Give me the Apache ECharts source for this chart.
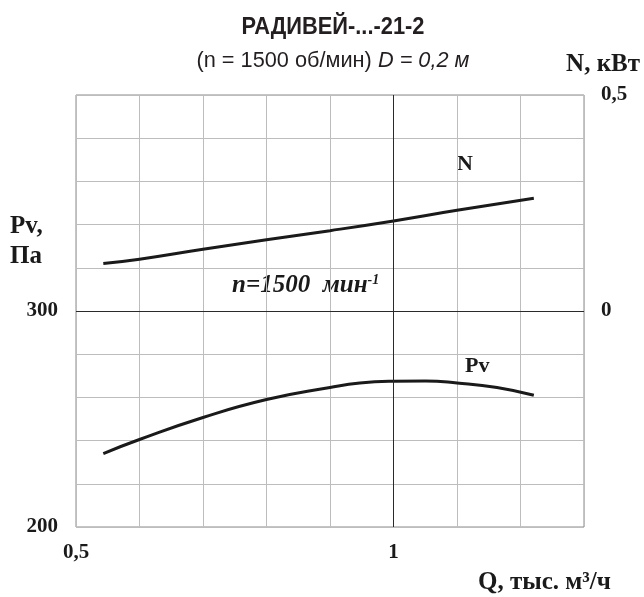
<!DOCTYPE html>
<html><head><meta charset="utf-8">
<script src="https://cdn.jsdelivr.net/npm/echarts@6/dist/echarts.min.js"></script>
<style>html,body{margin:0;padding:0;background:#fff}#c{width:644px;height:597px}</style>
</head><body><div id="c"></div>
<script>
// Data
const qPv = [0.543, 0.6, 0.7, 0.8, 0.9, 0.947, 1.0, 1.05, 1.1, 1.163, 1.221];
const pvValues = [234, 240.5, 250.7, 259, 264.6, 266.7, 267.5, 267.6, 266.7, 264.6, 261];
const qN = [0.543, 0.6, 0.7, 0.8, 0.9, 1.0, 1.1, 1.221];
const nValues = [0.110, 0.120, 0.143, 0.165, 0.186, 0.2085, 0.233, 0.261];
const xTickLabels = {0.5: '0,5', 1: '1'};
const pvTickLabels = {200: '200', 300: '300'};
const nTickLabels = {0: '0', 0.5: '0,5'};

const serif = '"Liberation Serif", "DejaVu Serif", serif';
const sans = '"Liberation Sans", "DejaVu Sans", sans-serif';
function pick(map, v) {
  for (const k in map) if (Math.abs(parseFloat(k) - v) < 1e-6) return map[k];
  return '';
}
// horizontal squeeze so the sans text mimics the reference's condensed face
const ctx = document.createElement('canvas').getContext('2d');
function squeeze(text, font, width) { ctx.font = font; return width / ctx.measureText(text).width; }

const titleText = 'РАДИВЕЙ-...-21-2';
const titleFont = 'bold 24px ' + sans;
const subA = '(n = 1500 об/мин) ', subB = 'D = 0,2 м';
const subFontA = '22px ' + sans, subFontB = 'italic 22px ' + sans;
ctx.font = subFontA; let subW = ctx.measureText(subA).width;
ctx.font = subFontB; subW += ctx.measureText(subB).width;

const chart = echarts.init(document.getElementById('c'));
const lbl = {color: '#1a1a1a', fontFamily: serif, fontWeight: 'bold', fontSize: 21};
chart.setOption({
  animation: false,
  backgroundColor: '#fff',
  grid: {left: 76, right: 60, top: 95, bottom: 70, show: true, borderColor: '#8a8a8a', borderWidth: 1},
  xAxis: {
    type: 'value', min: 0.5, max: 1.3, interval: 0.1,
    axisLine: {show: false}, axisTick: {show: false},
    axisLabel: Object.assign({margin: 15, formatter: v => pick(xTickLabels, v), showMaxLabel: true}, lbl),
    splitLine: {show: true, lineStyle: {color: '#bdbdbd', width: 1}}
  },
  yAxis: [{
    type: 'value', min: 200, max: 400, interval: 20,
    axisLine: {show: false}, axisTick: {show: false},
    axisLabel: Object.assign({margin: 18, formatter: v => pick(pvTickLabels, v)}, lbl),
    splitLine: {show: true, lineStyle: {color: '#bdbdbd', width: 1}}
  }, {
    type: 'value', min: -0.5, max: 0.5, interval: 0.1, position: 'right',
    axisLine: {show: false}, axisTick: {show: false},
    axisLabel: Object.assign({margin: 17, formatter: v => pick(nTickLabels, v)}, lbl),
    splitLine: {show: false}
  }],
  series: [{
    type: 'line', yAxisIndex: 0, smooth: true, symbol: 'none',
    data: qPv.map((q, i) => [q, pvValues[i]]),
    lineStyle: {color: '#1a1a1a', width: 3},
    markLine: {
      silent: true, symbol: 'none', label: {show: false},
      lineStyle: {color: '#2a2a2a', width: 1, type: 'solid'},
      data: [{xAxis: 1}, {yAxis: 300}]
    },
    z: 3
  }, {
    type: 'line', yAxisIndex: 1, smooth: true, symbol: 'none',
    data: qN.map((q, i) => [q, nValues[i]]),
    lineStyle: {color: '#1a1a1a', width: 3},
    z: 3
  }],
  graphic: [
    {type: 'text', x: 333, y: 27, scaleX: squeeze(titleText, titleFont, 183),
      style: {text: titleText, font: titleFont, fill: '#231f20', align: 'center', verticalAlign: 'middle'}},
    {type: 'text', x: 333, y: 61, scaleX: 273 / subW, style: {
      text: '{n|' + subA + '}{i|' + subB + '}', align: 'center', verticalAlign: 'middle',
      rich: {n: {font: subFontA, fill: '#231f20'}, i: {font: subFontB, fill: '#231f20'}}
    }},
    {type: 'text', x: 10, y: 212, style: {text: 'Pv,\nПа', font: 'bold 25px ' + serif, lineHeight: 30, fill: '#1a1a1a'}},
    {type: 'text', x: 640, y: 65, style: {text: 'N, кВт', font: 'bold 25px ' + serif, fill: '#1a1a1a', align: 'right', verticalAlign: 'middle'}},
    {type: 'text', x: 478, y: 583, style: {text: 'Q, тыс. м³/ч', font: 'bold 25px ' + serif, fill: '#1a1a1a', verticalAlign: 'middle'}},
    {type: 'text', x: 457, y: 164, style: {text: 'N', font: 'bold 22px ' + serif, fill: '#1a1a1a', verticalAlign: 'middle'}},
    {type: 'text', x: 465, y: 366, style: {text: 'Pv', font: 'bold 22px ' + serif, fill: '#1a1a1a', verticalAlign: 'middle'}},
    {type: 'text', x: 232, y: 286, style: {
      text: '{a|n=1500  мин}{s|-1}', verticalAlign: 'middle',
      rich: {a: {font: 'italic bold 25px ' + serif, fill: '#1a1a1a'}, s: {font: 'italic bold 14px ' + serif, fill: '#1a1a1a', verticalAlign: 'top', padding: [0, 0, 10, 0]}}
    }}
  ]
});
</script></body></html>
